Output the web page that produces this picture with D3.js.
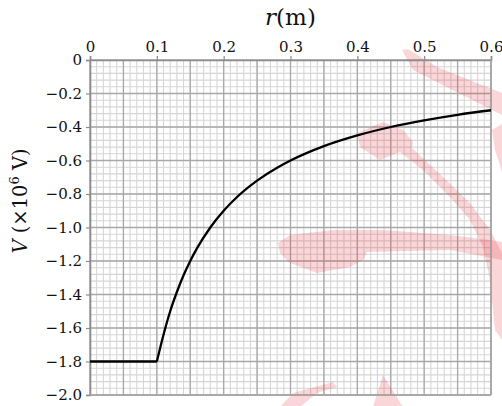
<!DOCTYPE html>
<html><head><meta charset="utf-8">
<script src="https://cdn.jsdelivr.net/npm/d3@7/dist/d3.min.js"></script>
<style>
html,body{margin:0;padding:0;background:#fff;}
svg{display:block;}
text{font-family:"DejaVu Serif",serif;fill:#111;}
</style></head>
<body>
<svg id="c" width="502" height="406"></svg>
<script>
// data
const rValues = [0, 0.1, 0.11, 0.12, 0.13, 0.14, 0.15, 0.16, 0.18, 0.2, 0.22, 0.25, 0.28, 0.3, 0.35, 0.4, 0.45, 0.5, 0.55, 0.6];
const vValues = [-1.8, -1.8, -1.64, -1.5, -1.385, -1.285, -1.2, -1.125, -1.0, -0.9, -0.818, -0.72, -0.643, -0.6, -0.514, -0.45, -0.4, -0.36, -0.327, -0.3];
const xTicks = [0, 0.1, 0.2, 0.3, 0.4, 0.5, 0.6];
const yTicks = [0, -0.2, -0.4, -0.6, -0.8, -1.0, -1.2, -1.4, -1.6, -1.8, -2.0];

const svg = d3.select("#c");
const L = 90, R = 491, T = 60, B = 395;
const x = d3.scaleLinear().domain([0, 0.6]).range([L, R]);
const y = d3.scaleLinear().domain([0, -2]).range([T, B]);

// grid
const minorX = d3.range(0, 61).map(i => i / 100);
const minorY = d3.range(0, 51).map(i => -i * 0.04);
const g = svg.append("g");
g.selectAll(".mx").data(minorX).enter().append("line")
  .attr("x1", d => x(d)).attr("x2", d => x(d)).attr("y1", T).attr("y2", B)
  .attr("stroke", "#d6d6d6").attr("stroke-width", 1.1);
g.selectAll(".my").data(minorY).enter().append("line")
  .attr("y1", d => y(d)).attr("y2", d => y(d)).attr("x1", L).attr("x2", R)
  .attr("stroke", "#d6d6d6").attr("stroke-width", 1.1);
const majorX = d3.range(0, 13).map(i => i * 0.05);
const majorY = d3.range(0, 11).map(i => -i * 0.2);
g.selectAll(".Mx").data(majorX).enter().append("line")
  .attr("x1", d => x(d)).attr("x2", d => x(d)).attr("y1", T).attr("y2", B)
  .attr("stroke", "#a8a8a8").attr("stroke-width", 1.3);
g.selectAll(".My").data(majorY).enter().append("line")
  .attr("y1", d => y(d)).attr("y2", d => y(d)).attr("x1", L).attr("x2", R)
  .attr("stroke", "#a8a8a8").attr("stroke-width", 1.3);

// watermark decoration
const wm = [
  "M402,50 L408,49 L437,67 L502,93 L502,115 L413,70 Z",
  "M492,130 L502,124 L502,172 L495,150 Z",
  "M357,133 L383,122 L403,130 L413,142 L412,148 L443,177 L470,203 L490,230 L502,253 L502,340 L495,330 L490,280 L483,247 L470,220 L450,197 L423,170 L400,152 L380,160 L360,147 Z",
  "M278,243 L290,235 L333,230 L383,230 L450,235 L490,240 L502,242 L502,260 L450,250 L367,252 L363,260 L350,267 L317,273 L290,263 L280,253 Z",
  "M280,407 L293,393 L333,382 L337,387 L317,393 L300,407 Z",
  "M373,407 L383,375 L403,407 Z"
];
svg.append("g").selectAll("path").data(wm).enter().append("path")
  .attr("d", d => d).attr("fill", "#e8303a").attr("opacity", 0.2);

// axes
const xAxis = d3.axisTop(x).tickValues(xTicks).tickSize(4).tickPadding(4)
  .tickFormat(d => d === 0 ? "0" : d3.format(".1f")(d));
const ax = svg.append("g").attr("transform", `translate(0,${T})`).call(xAxis);
const yAxis = d3.axisLeft(y).tickValues(yTicks).tickSize(4).tickPadding(4)
  .tickFormat(d => d === 0 ? "0" : d3.format(".1f")(d).replace("-", "\u2212"));
const ay = svg.append("g").attr("transform", `translate(${L},0)`).call(yAxis);
[ax, ay].forEach(a => {
  a.select(".domain").attr("stroke", "#8c8c8c").attr("stroke-width", 1.6);
  a.selectAll(".tick line").attr("stroke", "#8c8c8c").attr("stroke-width", 1.2);
  a.selectAll(".tick text").attr("font-family", "DejaVu Serif").attr("font-size", 15).attr("fill", "#111");
});
svg.append("line").attr("x1", R).attr("x2", R).attr("y1", T).attr("y2", B).attr("stroke", "#a4a4a4").attr("stroke-width", 1.6);
svg.append("line").attr("x1", L).attr("x2", R).attr("y1", B).attr("y2", B).attr("stroke", "#a4a4a4").attr("stroke-width", 1.6);

// curve
const pts = rValues.map((r, i) => [r, vValues[i]]);
const lin = d3.line().x(d => x(d[0])).y(d => y(d[1]));
svg.append("path").attr("d", lin(pts.slice(0, 2))).attr("fill", "none").attr("stroke", "#000").attr("stroke-width", 2.3);
svg.append("path").attr("d", lin.curve(d3.curveMonotoneX)(pts.slice(1)))
  .attr("fill", "none").attr("stroke", "#000").attr("stroke-width", 2.3).attr("stroke-linejoin", "round");

// titles
const t = svg.append("text").attr("x", (L + R) / 2).attr("y", 25).attr("text-anchor", "middle").attr("font-size", 23);
t.append("tspan").attr("font-style", "italic").text("r");
t.append("tspan").text("(m)");

const yl = svg.append("text").attr("transform", "translate(27,201) rotate(-90)").attr("text-anchor", "middle").attr("font-size", 19.5);
yl.append("tspan").attr("font-style", "italic").text("V");
yl.append("tspan").text(" (\u00d710");
yl.append("tspan").attr("font-size", 13).attr("dy", -8).text("6");
yl.append("tspan").attr("dy", 8).text(" V)");
</script>
</body></html>
